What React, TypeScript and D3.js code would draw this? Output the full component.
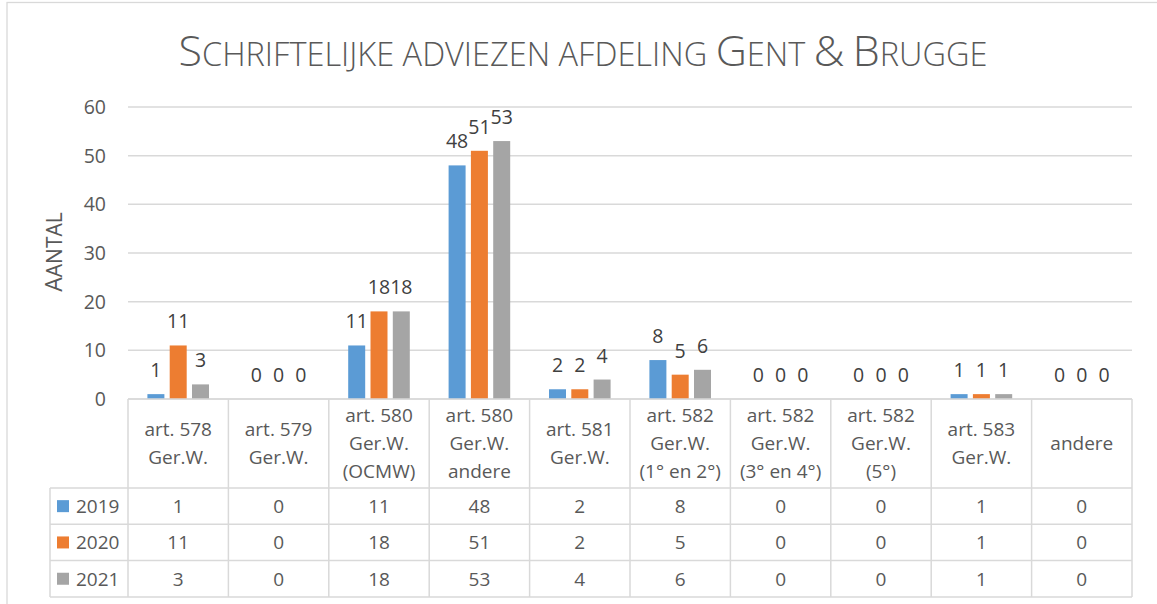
import React, { useEffect, useRef } from 'react';
import * as d3 from 'd3';

const categories = [
  ['art. 578', 'Ger.W.'],
  ['art. 579', 'Ger.W.'],
  ['art. 580', 'Ger.W.', '(OCMW)'],
  ['art. 580', 'Ger.W.', 'andere'],
  ['art. 581', 'Ger.W.'],
  ['art. 582', 'Ger.W.', '(1° en 2°)'],
  ['art. 582', 'Ger.W.', '(3° en 4°)'],
  ['art. 582', 'Ger.W.', '(5°)'],
  ['art. 583', 'Ger.W.'],
  ['andere'],
];
const years = ['2019', '2020', '2021'];
const values2019 = [1, 0, 11, 48, 2, 8, 0, 0, 1, 0];
const values2020 = [11, 0, 18, 51, 2, 5, 0, 0, 1, 0];
const values2021 = [3, 0, 18, 53, 4, 6, 0, 0, 1, 0];
const yTicks = [0, 10, 20, 30, 40, 50, 60];
const colors = ['#5B9BD5', '#ED7D31', '#A5A5A5'];

const font = '"Open Sans", sans-serif';
const titleText = 'Schriftelijke adviezen afdeling Gent & Brugge';
const axisTitle = 'Aantal';

// fake small caps: capitals big, lowercase as smaller capitals
const smallCaps = (sel: any, text: string, big: number, small: number) => {
  text.split('').forEach((ch) => {
    const isCap = ch !== ch.toLowerCase() || ch === '&';
    sel.append('tspan').style('font-size', (isCap ? big : small) + 'px').text(ch.toUpperCase());
  });
};

const Chart = () => {
  const ref = useRef<SVGSVGElement>(null);

  const graph = () => {
    const svg = d3.select(ref.current);
    svg.selectAll('*').remove();

    const width = 1157, height = 604;
    const left = 128, right = 1132, top = 107, bottom = 399;
    const headerBottom = 488, rowH = 36.3, legendLeft = 50;
    const series = [values2019, values2020, values2021];
    const idx = categories.map((_, i) => i);

    const x = d3.scaleBand<number>().domain(idx).range([left, right]).padding(0);
    const x1 = d3.scaleBand<string>().domain(years).range([0, x.bandwidth()])
      .paddingInner(0.238).paddingOuter(0.87);
    const y = d3.scaleLinear().domain([0, 60]).range([bottom, top]);

    // outer frame
    svg.append('rect').attr('x', 7).attr('y', 2.5).attr('width', width + 20).attr('height', height + 20)
      .attr('fill', 'none').attr('stroke', '#D9D9D9').attr('stroke-width', 1.3);

    // title
    const title = svg.append('text').attr('x', 583).attr('y', 66).attr('text-anchor', 'middle')
      .style('font-family', font).style('font-weight', 300).style('fill', '#595959');
    smallCaps(title, titleText, 43, 32.5);

    // y axis title
    const yt = svg.append('text').attr('transform', 'translate(62, 252) rotate(-90)').attr('text-anchor', 'middle')
      .style('font-family', font).style('fill', '#595959');
    smallCaps(yt, axisTitle, 23, 21);

    // gridlines
    svg.append('g').selectAll('line').data(yTicks).enter().append('line')
      .attr('x1', left).attr('x2', right).attr('y1', d => y(d)).attr('y2', d => y(d))
      .attr('stroke', '#D9D9D9').attr('stroke-width', 1.5);

    svg.append('g').selectAll('text').data(yTicks).enter().append('text')
      .attr('x', 106).attr('y', d => y(d)).attr('dy', '0.36em').attr('text-anchor', 'end')
      .style('font-family', font).style('font-size', '19.5px').style('fill', '#595959')
      .text(d => d);

    // bars
    years.forEach((yr, s) => {
      const g = svg.append('g');
      g.selectAll('rect').data(series[s]).enter().append('rect')
        .attr('x', (d, i) => x(i)! + x1(yr)!)
        .attr('width', x1.bandwidth())
        .attr('y', d => y(d))
        .attr('height', d => bottom - y(d))
        .attr('fill', colors[s]);
      g.selectAll('text').data(series[s]).enter().append('text')
        .attr('x', (d, i) => x(i)! + x1(yr)! + x1.bandwidth() / 2)
        .attr('y', d => y(d) - 17)
        .attr('text-anchor', 'middle')
        .style('font-family', font).style('font-size', '19.5px').style('fill', '#404040')
        .text(d => d);
    });

    // data table
    const tg = svg.append('g');
    const lineStyle = (sel: any) => sel.attr('stroke', '#D9D9D9').attr('stroke-width', 1.5).attr('fill', 'none');
    const tableBottom = headerBottom + rowH * years.length;
    tg.append('line').attr('x1', left).attr('x2', right).attr('y1', bottom).attr('y2', bottom).call(lineStyle);
    [0, 1, 2, 3].forEach(r => {
      const yy = headerBottom + r * rowH;
      tg.append('line').attr('x1', legendLeft).attr('x2', right).attr('y1', yy).attr('y2', yy).call(lineStyle);
    });
    tg.append('line').attr('x1', legendLeft).attr('x2', legendLeft).attr('y1', headerBottom).attr('y2', tableBottom).call(lineStyle);
    [...idx, categories.length].forEach(i => {
      const xx = i < categories.length ? x(i)! : right;
      tg.append('line').attr('x1', xx).attr('x2', xx).attr('y1', bottom).attr('y2', tableBottom).call(lineStyle);
    });

    // header labels
    categories.forEach((lines, i) => {
      const cx = x(i)! + x.bandwidth() / 2;
      const cy = (bottom + headerBottom) / 2;
      const t = tg.append('text').attr('text-anchor', 'middle')
        .style('font-family', font).style('font-size', '19px').style('fill', '#595959');
      lines.forEach((ln, k) => {
        t.append('tspan').attr('x', cx)
          .attr('y', cy + (k - (lines.length - 1) / 2) * 28)
          .attr('dy', '0.36em').text(ln);
      });
    });

    // rows
    years.forEach((yr, s) => {
      const cy = headerBottom + s * rowH + rowH / 2;
      tg.append('rect').attr('x', 57).attr('y', cy - 6).attr('width', 12).attr('height', 12).attr('fill', colors[s]);
      tg.append('text').attr('x', 76).attr('y', cy).attr('dy', '0.36em')
        .style('font-family', font).style('font-size', '19px').style('fill', '#595959').text(yr);
      tg.append('g').selectAll('text').data(series[s]).enter().append('text')
        .attr('x', (d, i) => x(i)! + x.bandwidth() / 2).attr('y', cy).attr('dy', '0.36em')
        .attr('text-anchor', 'middle')
        .style('font-family', font).style('font-size', '19px').style('fill', '#595959')
        .text(d => d);
    });
  };

  useEffect(() => graph());
  return <svg ref={ref} width="1157" height="604" style={{ position: 'absolute', left: 0, top: 0, background: '#fff' }}></svg>;
};

export default function App() {
  return <Chart />;
}
